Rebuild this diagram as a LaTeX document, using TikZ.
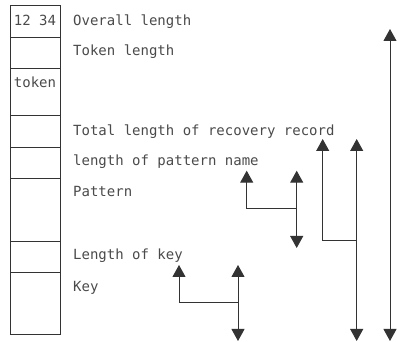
\documentclass[tikz,border=0pt]{standalone}
\usepackage{fontspec}
\setmonofont{DejaVu Sans Mono}
\usepackage{tikz}
\usetikzlibrary{arrows.meta}
\definecolor{inkline}{HTML}{333333}
\definecolor{inktext}{HTML}{4A4A4A}

\begin{document}
\begin{tikzpicture}[x=1pt,y=-1pt]
    \useasboundingbox (0,0) rectangle (397,342);
    \tikzstyle {field} = [shape=rectangle, draw=inkline, line width=0.9pt, minimum width=50pt, anchor=north west, inner sep=0pt];
    \tikzstyle {label} = [anchor=base west, inner sep=0pt, text=inktext, font=\ttfamily\fontsize{14}{16}\selectfont];
    \tikzstyle {inbox} = [anchor=base, inner sep=0pt, text=inktext, font=\ttfamily\fontsize{14}{16}\selectfont];
    \tikzstyle {span} = [draw=inkline, line width=1pt, -{Triangle[width=13pt,length=12pt]}];
    %% the record, field by field
    \node (f1) [field, minimum height=32pt] at (10,5) {};
    \node (f2) [field, minimum height=31pt] at (10,37) {};
    \node (f3) [field, minimum height=47pt] at (10,68) {};
    \node (f4) [field, minimum height=32pt] at (10,115) {};
    \node (f5) [field, minimum height=31pt] at (10,147) {};
    \node (f6) [field, minimum height=63pt] at (10,178) {};
    \node (f7) [field, minimum height=31pt] at (10,241) {};
    \node (f8) [field, minimum height=62pt] at (10,272) {};
    \node (n1) [inbox] at (35,26) {12 34};
    \node (n3) [inbox] at (35,88) {token};
    %% what each field holds
    \node (l1) [label] at (73,26) {Overall length};
    \node (l2) [label] at (73,56) {Token length};
    \node (l4) [label] at (73,136) {Total length of recovery record};
    \node (l5) [label] at (73,166) {length of pattern name};
    \node (l6) [label] at (73,197) {Pattern};
    \node (l7) [label] at (73,260) {Length of key};
    \node (l8) [label] at (73,292) {Key};
    %% overall span
    \coordinate (ot) at (390,29);
    \coordinate (ob) at (390,341);
    \draw [span, {Triangle[width=13pt,length=12pt]}-{Triangle[width=13pt,length=12pt]}] (ot) -- (ob);
    %% recovery record span
    \coordinate (rl) at (322.7,139);
    \coordinate (rt) at (356.7,139);
    \coordinate (rj) at (356.7,240.7);
    \coordinate (rb) at (356.7,341);
    \draw [span, {Triangle[width=13pt,length=12pt]}-{Triangle[width=13pt,length=12pt]}] (rt) -- (rb);
    \draw [span] (rj) -| (rl);
    %% pattern span
    \coordinate (pl) at (246.7,170.7);
    \coordinate (pt) at (296.7,170.7);
    \coordinate (pj) at (296.7,209);
    \coordinate (pb) at (296.7,248);
    \draw [span, {Triangle[width=13pt,length=12pt]}-{Triangle[width=13pt,length=12pt]}] (pt) -- (pb);
    \draw [span] (pj) -| (pl);
    %% key span
    \coordinate (kl) at (179,265);
    \coordinate (kt) at (238,265);
    \coordinate (kj) at (238,302.7);
    \coordinate (kb) at (238,341);
    \draw [span, {Triangle[width=13pt,length=12pt]}-{Triangle[width=13pt,length=12pt]}] (kt) -- (kb);
    \draw [span] (kj) -| (kl);
\end{tikzpicture}
\end{document}
